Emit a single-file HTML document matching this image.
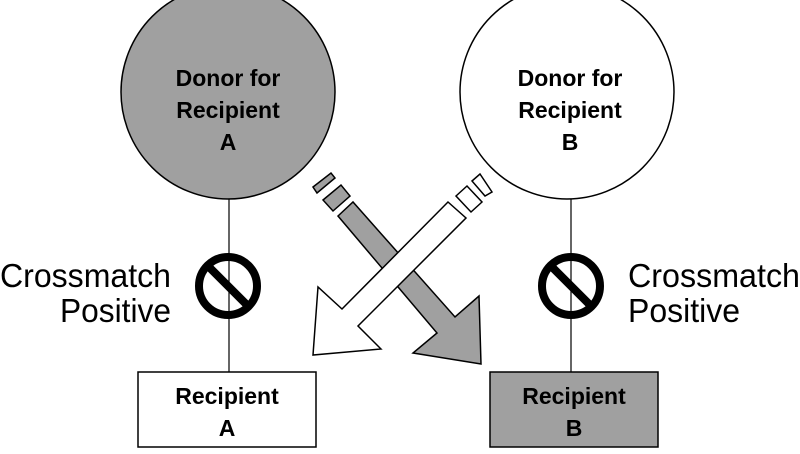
<!DOCTYPE html>
<html><head><style>body{margin:0;background:#fff}</style></head><body>
<svg width="800" height="449" viewBox="0 0 800 449" xmlns="http://www.w3.org/2000/svg" font-family="Liberation Sans, Arial, sans-serif">
<rect width="800" height="449" fill="#fff"/>
<line x1="229" y1="190" x2="229" y2="372" stroke="#000" stroke-width="1.2"/>
<line x1="571" y1="190" x2="571" y2="372" stroke="#000" stroke-width="1.2"/>
<circle cx="228" cy="92" r="107" fill="#a0a0a0" stroke="#000" stroke-width="1.5"/>
<circle cx="567" cy="92" r="107" fill="#fff" stroke="#000" stroke-width="1.5"/>
<g font-weight="bold" font-size="23" text-anchor="middle" fill="#000">
<text x="228" y="86">Donor for</text><text x="228" y="118">Recipient</text><text x="228" y="150">A</text>
<text x="570" y="86">Donor for</text><text x="570" y="118">Recipient</text><text x="570" y="150">B</text>
</g>
<g stroke="#000" stroke-width="1.5" stroke-linejoin="miter">
<polygon points="313,187 331,173 335,178 317,193" fill="#a0a0a0"/>
<polygon points="323,200 341,185 350,196 333,211" fill="#a0a0a0"/>
<polygon points="338,216 353,202 455,317 479,296 481,364 413,353 437,333" fill="#a0a0a0"/>
<polygon points="472,181 480,174 492,192 485,196" fill="#fff"/>
<polygon points="456,196 467,186 482,202 471,212" fill="#fff"/>
<polygon points="448,202 466,218 358,326 381,349 313,355 318,287 342,309" fill="#fff"/>
</g>
<g stroke="#000" stroke-width="8" fill="none">
<circle cx="228" cy="286" r="29"/><line x1="208" y1="266" x2="248" y2="306"/>
<circle cx="571" cy="286" r="29"/><line x1="551" y1="266" x2="591" y2="306"/>
</g>
<g font-size="33" fill="#000">
<text x="0" y="287" textLength="171" lengthAdjust="spacingAndGlyphs">Crossmatch</text>
<text x="60" y="322" textLength="111" lengthAdjust="spacingAndGlyphs">Positive</text>
<text x="628" y="287" textLength="172" lengthAdjust="spacingAndGlyphs">Crossmatch</text>
<text x="628" y="322" textLength="112" lengthAdjust="spacingAndGlyphs">Positive</text>
</g>
<rect x="138" y="372" width="178" height="75" fill="#fff" stroke="#000" stroke-width="1.5"/>
<rect x="490" y="372" width="168" height="75" fill="#a0a0a0" stroke="#000" stroke-width="1.5"/>
<g font-weight="bold" font-size="23" text-anchor="middle" fill="#000">
<text x="227" y="404">Recipient</text><text x="227" y="436">A</text>
<text x="574" y="404">Recipient</text><text x="574" y="436">B</text>
</g>
</svg>
</body></html>
